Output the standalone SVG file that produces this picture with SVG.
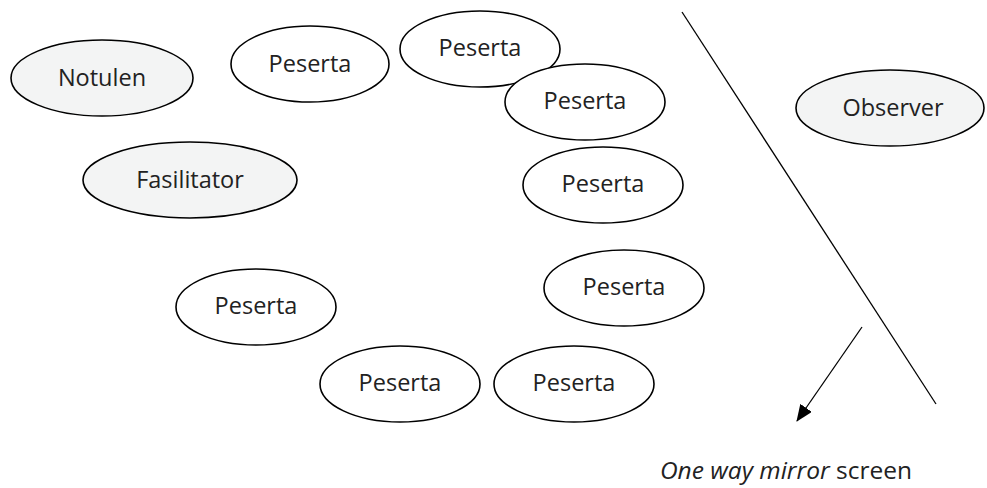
<svg xmlns="http://www.w3.org/2000/svg" width="987" height="488" viewBox="0 0 987 488">
<style>
.n{fill:#ffffff;stroke:#000000;stroke-width:1.6}
.g{fill:#f3f4f4;stroke:#000000;stroke-width:1.6}
text{font-family:"Open Sans","Liberation Sans",sans-serif;font-size:23.5px;fill:#222222;text-anchor:middle}
.c{stroke:#000000;stroke-width:1.3;fill:none}
</style>
<defs>
<marker id="ah" markerWidth="17" markerHeight="14" refX="16" refY="7" orient="auto" markerUnits="userSpaceOnUse">
<path d="M0,0 L17,7 L0,14 z" fill="#000000"/>
</marker>
</defs>
<rect width="987" height="488" fill="#ffffff"/>
<g id="notulen"><ellipse class="g" cx="102" cy="78" rx="91" ry="38"/><text x="102" y="86">Notulen</text></g>
<g id="fasilitator"><ellipse class="g" cx="190" cy="180" rx="107" ry="38"/><text x="190" y="188">Fasilitator</text></g>
<g id="peserta1"><ellipse class="n" cx="310" cy="64" rx="79" ry="38"/><text x="310" y="72">Peserta</text></g>
<g id="peserta2"><ellipse class="n" cx="480" cy="49" rx="80" ry="38"/><text x="480" y="56">Peserta</text></g>
<g id="peserta3"><ellipse class="n" cx="585" cy="102" rx="80" ry="38"/><text x="585" y="109">Peserta</text></g>
<g id="peserta4"><ellipse class="n" cx="603" cy="185" rx="80" ry="38"/><text x="603" y="192">Peserta</text></g>
<g id="peserta5"><ellipse class="n" cx="624" cy="288" rx="80" ry="38"/><text x="624" y="295">Peserta</text></g>
<g id="peserta6"><ellipse class="n" cx="256" cy="307" rx="80" ry="38"/><text x="256" y="314">Peserta</text></g>
<g id="peserta7"><ellipse class="n" cx="400" cy="384" rx="80" ry="38"/><text x="400" y="391">Peserta</text></g>
<g id="peserta8"><ellipse class="n" cx="574" cy="384" rx="80" ry="38"/><text x="574" y="391">Peserta</text></g>
<g id="observer"><ellipse class="g" cx="890" cy="108" rx="94" ry="38"/><text x="893" y="116">Observer</text></g>
<g id="mirror"><line class="c" x1="682" y1="12" x2="936" y2="404"/></g>
<g id="connectors"><line class="c" x1="862" y1="327" x2="797" y2="421" marker-end="url(#ah)"/></g>
<g id="label"><text x="912" y="479" style="text-anchor:end;font-size:24.5px"><tspan font-style="italic">One way mirror</tspan> screen</text></g>
</svg>
